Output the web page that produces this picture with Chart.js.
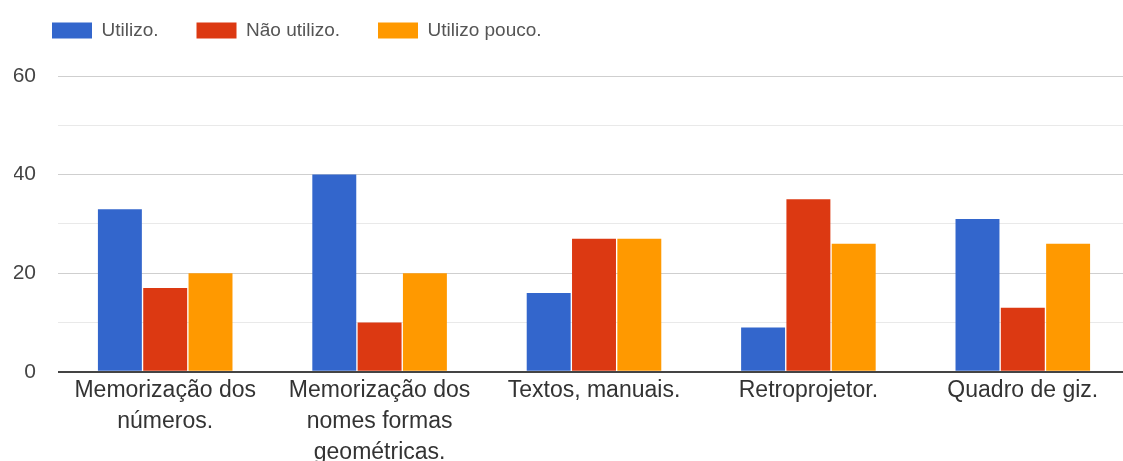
<!DOCTYPE html>
<html>
<head>
<meta charset="utf-8">
<script src="https://cdn.jsdelivr.net/npm/chart.js@4.4.0/dist/chart.umd.min.js"></script>
<style>
  html, body { margin: 0; padding: 0; background: #fff; overflow: hidden; width: 1123px; height: 461px; }
  #myChart { position: relative; top: -17px; left: 0; display: block; }
</style>
</head>
<body>
<canvas id="myChart" width="1134" height="488"></canvas>
<script>
// categories (multi-line labels like the original)
const categories = [
  ["Memorização dos", "números."],
  ["Memorização dos", "nomes formas", "geométricas."],
  ["Textos, manuais."],
  ["Retroprojetor."],
  ["Quadro de giz."]
];

const seriesNames = ["Utilizo.", "Não utilizo.", "Utilizo pouco."];
const utilizo = [33, 40, 16, 9, 31];
const naoUtilizo = [17, 10, 27, 35, 13];
const utilizoPouco = [20, 20, 27, 26, 26];

const yMin = 0;
const yMax = 60;
const yStep = 10;      // grid every 10
const yLabelStep = 20; // labels every 20

const colors = ["#3366cc", "#dc3912", "#ff9900"];

// push the plot area down a bit below the legend
const legendGap = {
  id: 'legendGap',
  beforeInit(chart) {
    const origFit = chart.legend.fit;
    chart.legend.fit = function () {
      origFit.bind(chart.legend)();
      this.height += 26;
    };
  }
};

const values = [utilizo, naoUtilizo, utilizoPouco];

new Chart("myChart", {
  type: 'bar',
  data: {
    labels: categories,
    datasets: seriesNames.map((name, i) => ({
      label: name,
      data: values[i],
      backgroundColor: colors[i],
      borderWidth: 0,
      categoryPercentage: 0.634,
      barPercentage: 0.97
    }))
  },
  options: {
    responsive: false,
    animation: false,
    layout: { padding: { left: 14, right: 4, top: 0, bottom: 0 } },
    plugins: {
      legend: {
        position: 'top',
        align: 'start',
        labels: {
          boxWidth: 40,
          boxHeight: 16,
          padding: 38,
          color: '#555',
          font: { family: 'Arial, "Liberation Sans", sans-serif', size: 19 }
        }
      },
      tooltip: { enabled: false }
    },
    scales: {
      x: {
        type: 'category',
        grid: { display: false, drawTicks: false },
        border: { display: false },
        ticks: {
          color: '#333',
          padding: 3,
          maxRotation: 0,
          autoSkip: false,
          font: { family: 'Arial, "Liberation Sans", sans-serif', size: 23, lineHeight: 1.35 }
        }
      },
      y: {
        min: yMin,
        max: yMax,
        border: { display: false },
        afterFit: (scale) => { scale.width = 44; },
        grid: {
          drawTicks: false,
          lineWidth: (ctx) => ctx.tick && ctx.tick.value === 0 ? 2 : 1,
          color: (ctx) => {
            if (!ctx.tick) return '#e0e0e0';
            if (ctx.tick.value === 0) return '#444';
            return ctx.tick.value % yLabelStep === 0 ? '#cfcfcf' : '#e9e9e9';
          }
        },
        ticks: {
          stepSize: yStep,
          padding: 22,
          color: '#444',
          font: { family: 'Arial, "Liberation Sans", sans-serif', size: 21 },
          callback: (v) => (v % yLabelStep === 0 ? v : '')
        }
      }
    }
  },
  plugins: [legendGap]
});
</script>
</body>
</html>
